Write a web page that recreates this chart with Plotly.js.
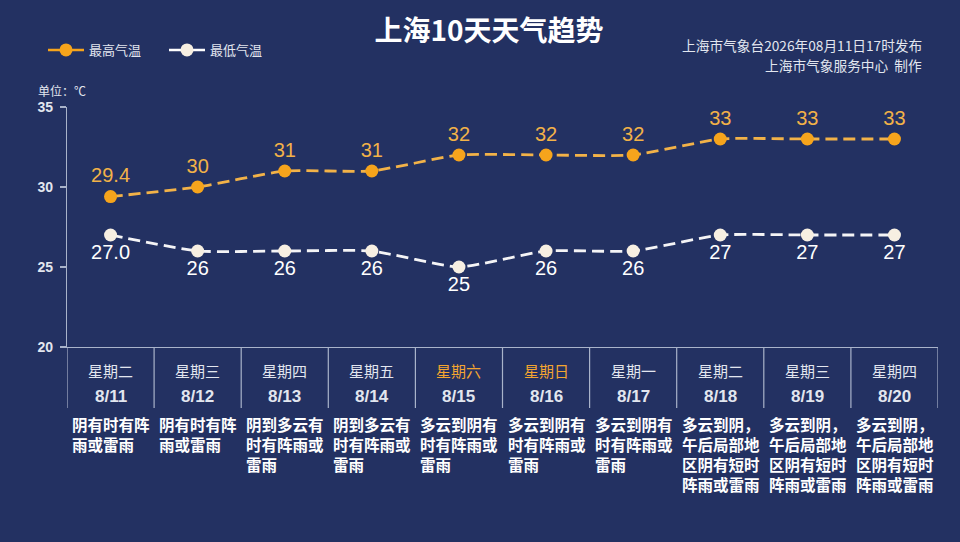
<!DOCTYPE html>
<html>
<head>
<meta charset="utf-8">
<script src="https://cdn.plot.ly/plotly-3.0.1.min.js"></script>
<style>
  html, body { margin: 0; padding: 0; background: #233162; }
  #chart { width: 960px; height: 542px; }
</style>
</head>
<body>
<div id="chart"></div>
<script>
// données
const dates = ['8/11', '8/12', '8/13', '8/14', '8/15', '8/16', '8/17', '8/18', '8/19', '8/20'];
const weekdays = ['星期二', '星期三', '星期四', '星期五', '星期六', '星期日', '星期一', '星期二', '星期三', '星期四'];
const maxTemp = [29.4, 30, 31, 31, 32, 32, 32, 33, 33, 33];
const minTemp = [27.0, 26, 26, 26, 25, 26, 26, 27, 27, 27];
const maxLabels = ['29.4', '30', '31', '31', '32', '32', '32', '33', '33', '33'];
const minLabels = ['27.0', '26', '26', '26', '25', '26', '26', '27', '27', '27'];
const weather = [
  '阴有时有阵雨或雷雨',
  '阴有时有阵雨或雷雨',
  '阴到多云有时有阵雨或雷雨',
  '阴到多云有时有阵雨或雷雨',
  '多云到阴有时有阵雨或雷雨',
  '多云到阴有时有阵雨或雷雨',
  '多云到阴有时有阵雨或雷雨',
  '多云到阴，午后局部地区阴有短时阵雨或雷雨',
  '多云到阴，午后局部地区阴有短时阵雨或雷雨',
  '多云到阴，午后局部地区阴有短时阵雨或雷雨'
];

const orange = '#f6a41c';
const orangeLine = '#f2b248';
const cream = '#f7efe2';
const textLight = '#e2e6ef';
const gridLine = '#a9b3ca';
const fontNum = 'Liberation Sans, Arial, Noto Sans CJK SC, sans-serif';
const fontCJK = 'Noto Sans CJK SC, sans-serif';

const idx = dates.map((_, i) => i);

// coupe le texte en lignes de 5 caractères
function wrap(s, n) {
  let out = [];
  for (let i = 0; i < s.length; i += n) out.push(s.slice(i, i + n));
  return out.join('<br>');
}

const data = [
  {
    x: idx, y: maxTemp, text: maxLabels,
    mode: 'lines+markers+text', textposition: 'top center',
    textfont: { size: 20, color: orangeLine, family: fontNum },
    line: { color: orangeLine, width: 2.8, dash: '12px,6px', shape: 'spline', smoothing: 0.5 },
    marker: { size: 13, color: orange },
    showlegend: false, hoverinfo: 'skip'
  },
  {
    x: idx, y: minTemp, text: minLabels,
    mode: 'lines+markers+text', textposition: 'bottom center',
    textfont: { size: 20, color: '#ffffff', family: fontNum },
    line: { color: '#f4f4f6', width: 2.8, dash: '12px,6px', shape: 'spline', smoothing: 0.5 },
    marker: { size: 13, color: cream },
    showlegend: false, hoverinfo: 'skip'
  },
  // entrées de légende (traits pleins)
  {
    x: [null], y: [null], name: '最高气温', mode: 'lines+markers',
    line: { color: orange, width: 2.5 }, marker: { size: 13, color: orange }
  },
  {
    x: [null], y: [null], name: '最低气温', mode: 'lines+markers',
    line: { color: '#ffffff', width: 2.5 }, marker: { size: 13, color: cream }
  }
];

const H = 240; // hauteur de la zone de tracé en px
const py = p => (347 - p) / H;

let shapes = [];
for (let i = 0; i <= dates.length; i++) {
  shapes.push({
    type: 'line', xref: 'x', yref: 'paper',
    x0: i - 0.5, x1: i - 0.5, y0: 0, y1: py(408),
    line: { color: gridLine, width: 1.2 }
  });
}

let annotations = [];
idx.forEach(i => {
  const weekend = weekdays[i] === '星期六' || weekdays[i] === '星期日';
  annotations.push({
    x: i, y: py(370), xref: 'x', yref: 'paper', text: weekdays[i],
    showarrow: false, yanchor: 'middle',
    font: { size: 15, color: weekend ? '#f3a530' : textLight, family: fontCJK }
  });
  annotations.push({
    x: i, y: py(396), xref: 'x', yref: 'paper', text: dates[i],
    showarrow: false, yanchor: 'middle',
    font: { size: 17, color: textLight, family: fontNum, weight: 'bold' }
  });
  annotations.push({
    x: i - 0.5, y: py(411), xref: 'x', yref: 'paper', text: wrap(weather[i], 5),
    showarrow: false, xanchor: 'left', yanchor: 'top', align: 'left', xshift: 3,
    font: { size: 15.5, color: '#ffffff', family: fontCJK, weight: 'bold' }
  });
});

annotations.push({
  x: (36 - 67) / 871, y: py(90), xref: 'paper', yref: 'paper', text: '单位：℃',
  showarrow: false, xanchor: 'left', yanchor: 'middle',
  font: { size: 12, color: textLight, family: fontCJK }
});
annotations.push({
  x: (924 - 67) / 871, y: py(45), xref: 'paper', yref: 'paper',
  text: '上海市气象台2026年08月11日17时发布',
  showarrow: false, xanchor: 'right', yanchor: 'middle',
  font: { size: 13.7, color: textLight, family: fontCJK }
});
annotations.push({
  x: (924 - 67) / 871, y: py(65), xref: 'paper', yref: 'paper',
  text: '上海市气象服务中心  制作',
  showarrow: false, xanchor: 'right', yanchor: 'middle',
  font: { size: 13.7, color: textLight, family: fontCJK }
});

const layout = {
  width: 960, height: 542,
  paper_bgcolor: '#233162', plot_bgcolor: '#233162',
  margin: { l: 67, r: 22, t: 107, b: 195, pad: 0 },
  title: {
    text: '上海10天天气趋势', x: 489 / 960, y: 1 - 31 / 542,
    xanchor: 'center', yanchor: 'middle',
    font: { size: 28, color: '#ffffff', family: fontCJK, weight: 'bold' }
  },
  xaxis: {
    range: [-0.5, dates.length - 0.5], showgrid: false, zeroline: false,
    showticklabels: false, ticks: '',
    showline: true, linecolor: gridLine, linewidth: 1.2, fixedrange: true
  },
  yaxis: {
    range: [20, 35], tickvals: [20, 25, 30, 35], showgrid: false, zeroline: false,
    showline: true, linecolor: gridLine, linewidth: 1.2,
    ticks: 'outside', ticklen: 6, tickcolor: gridLine, tickwidth: 1.2,
    ticklabelstandoff: 4,
    tickfont: { size: 14, color: textLight, family: fontNum, weight: 'bold' },
    fixedrange: true
  },
  legend: {
    orientation: 'h', x: (43 - 67) / 871, y: py(50), xanchor: 'left', yanchor: 'middle',
    font: { size: 13, color: textLight, family: fontCJK },
    bgcolor: 'rgba(0,0,0,0)', itemwidth: 36, entrywidth: 70, tracegroupgap: 0
  },
  shapes: shapes,
  annotations: annotations,
  showlegend: true
};

Plotly.newPlot('chart', data, layout, { displayModeBar: false, staticPlot: true });
</script>
</body>
</html>
